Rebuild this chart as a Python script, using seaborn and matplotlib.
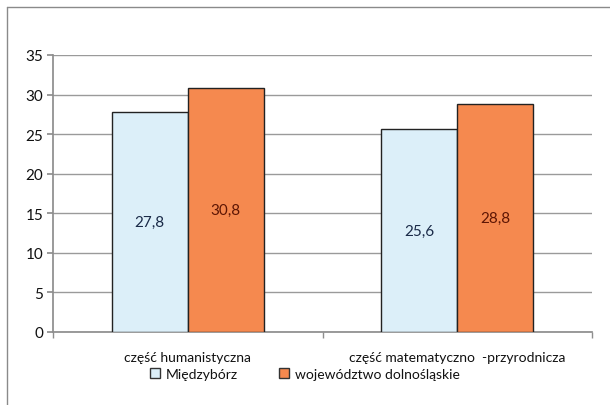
import matplotlib
matplotlib.use("Agg")
import matplotlib.pyplot as plt
import seaborn as sns
import pandas as pd
from matplotlib.patches import Patch
from matplotlib.lines import Line2D

categories = ["część humanistyczna", "część matematyczno  -przyrodnicza"]
series_names = ["Międzybórz", "województwo dolnośląskie"]
miedzyborz = [27.8, 25.6]
wojewodztwo = [30.8, 28.8]
y_ticks = [0, 5, 10, 15, 20, 25, 30, 35]

colors = ["#DCEFF9", "#F5894F"]
label_colors = ["#1A2A48", "#5E1604"]

df = pd.DataFrame({
    "kategoria": categories * 2,
    "seria": [series_names[0]] * 2 + [series_names[1]] * 2,
    "wynik": miedzyborz + wojewodztwo,
})

sns.set_theme(style="white")
plt.rcParams["font.family"] = ["Lato", "DejaVu Sans"]

fig = plt.figure(figsize=(6.1, 4.06), dpi=100)
ax = fig.add_axes([53/610, 1-333/406, (592-53)/610, (333-56)/406])

sns.barplot(data=df, x="kategoria", y="wynik", hue="seria", order=categories,
            hue_order=series_names, palette=colors, saturation=1, width=0.565,
            edgecolor="#222222", linewidth=1.0, ax=ax, legend=False, zorder=3)

for i, cont in enumerate(ax.containers):
    labels = [f"{v:.1f}".replace(".", ",") for v in cont.datavalues]
    ax.bar_label(cont, labels=labels, label_type="center", fontsize=11,
                 color=label_colors[i])

ax.set_ylim(0, 35)
ax.set_xlim(-0.5, 1.5)
ax.set_yticks(y_ticks)
ax.set_xlabel("")
ax.set_ylabel("")
ax.yaxis.grid(True, color="#9A9A9A", linewidth=1.0, zorder=0)
ax.set_axisbelow(True)
for s in ["top", "right"]:
    ax.spines[s].set_visible(False)
ax.spines["left"].set_color("#8E8E8E")
ax.spines["bottom"].set_color("#8E8E8E")
ax.tick_params(axis="y", which="major", left=True, length=4, color="#8E8E8E",
               labelsize=11, labelcolor="#111111", pad=3)
ax.tick_params(axis="x", which="major", length=0, labelsize=10, labelcolor="#111111", pad=14)
ax.set_xticks([-0.5, 0.5, 1.5], minor=True)
ax.tick_params(axis="x", which="minor", bottom=True, length=4, color="#8E8E8E")

handles = [Patch(facecolor=colors[i], edgecolor="#333333", linewidth=1.0, label=series_names[i])
           for i in range(2)]
fig.legend(handles=handles, loc="center", bbox_to_anchor=(305/610, 1-375/406), ncol=2,
           frameon=False, fontsize=10, handlelength=0.7, handleheight=0.7,
           handletextpad=0.4, columnspacing=3.0, labelcolor="#111111")

# outer chart-area frame (cropped at right and bottom)
fig.add_artist(Line2D([7/610, 7/610], [0, 1-8/406], transform=fig.transFigure,
                      color="#8A8A8A", linewidth=1.0))
fig.add_artist(Line2D([7/610, 1], [1-8/406, 1-8/406], transform=fig.transFigure,
                      color="#8A8A8A", linewidth=1.0))

fig.savefig("out.png", dpi=100)
